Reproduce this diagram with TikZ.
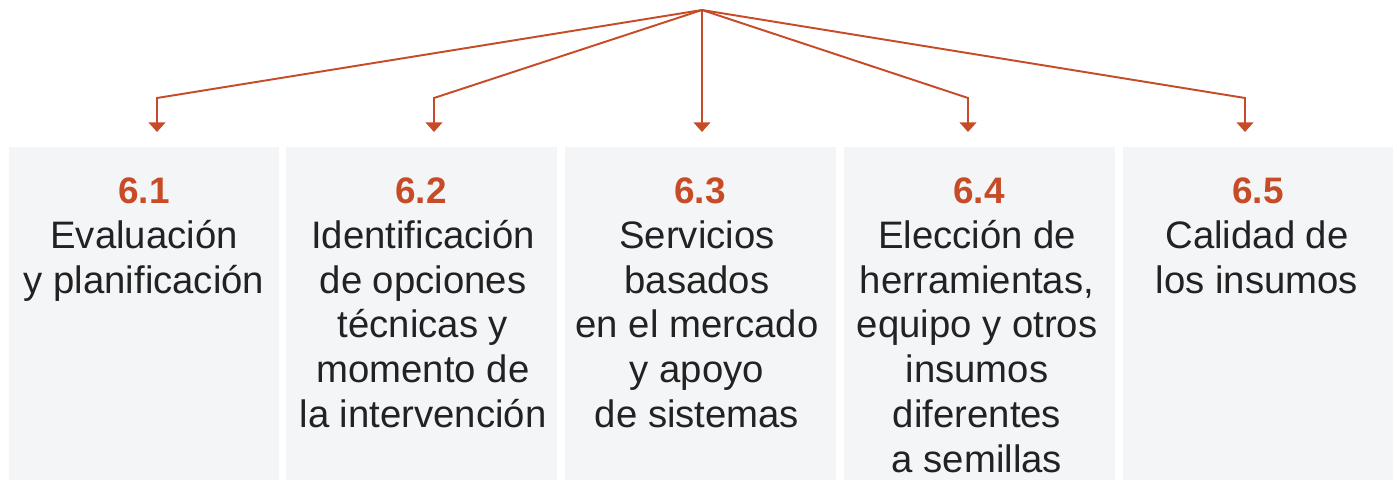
\documentclass[tikz,border=0pt]{standalone}
\usepackage{fontspec}
\setmainfont{Liberation Sans}
\usetikzlibrary{arrows.meta}
\definecolor{rust}{HTML}{C64B26}
\definecolor{panel}{HTML}{F4F5F7}
\definecolor{ink}{HTML}{222222}
\tikzset{
  panelbox/.style={fill=panel, draw=none},
  numlabel/.style={anchor=base, text=rust, font=\fontsize{21}{24}\selectfont\bfseries, inner sep=0},
  bodytext/.style={anchor=north, text=ink, align=center, inner sep=0,
    font=\fontsize{21.8}{25.5}\selectfont},
  link/.style={draw=rust, line width=1.1pt, -{Triangle[width=9.5pt,length=5.5pt]}},
}

\begin{document}
\begin{tikzpicture}[x=0.02cm, y=-0.02cm]
		%%%%% START %%%%%
		\useasboundingbox (0, 0) rectangle (1398, 480);
		
		% panels
		\path[panelbox] (9, 147) rectangle (279, 480);
		\path[panelbox] (286, 147) rectangle (557, 480);
		\path[panelbox] (565, 147) rectangle (836, 480);
		\path[panelbox] (844, 147) rectangle (1115, 480);
		\path[panelbox] (1123, 147) rectangle (1393, 480);
		
		% numbers
		\node[numlabel] (num1) at (144, 203) {6.1};
		\node[numlabel] (num2) at (421, 203) {6.2};
		\node[numlabel] (num3) at (700, 203) {6.3};
		\node[numlabel] (num4) at (979, 203) {6.4};
		\node[numlabel] (num5) at (1258, 203) {6.5};
		
		% texts (first baseline at 248)
		\node[bodytext] (txt1) at (144, 216.6) {\strut Evaluación\\y planificación};
		\node[bodytext] (txt2) at (423, 216.6) {\strut Identificación\\de opciones\\técnicas y\\momento de\\la intervención};
		\node[bodytext] (txt3) at (697, 216.6) {\strut Servicios\\basados\\en el mercado\\y apoyo\\de sistemas};
		\node[bodytext] (txt4) at (977, 216.6) {\strut Elección de\\herramientas,\\equipo y otros\\insumos\\diferentes\\a semillas};
		\node[bodytext] (txt5) at (1257, 216.6) {\strut Calidad de\\los insumos};
		
		% connectors
		\coordinate (top) at (702, 10);
		\coordinate (e1) at (157, 132);
		\coordinate (e2) at (434, 132);
		\coordinate (e3) at (702, 132);
		\coordinate (e4) at (968, 132);
		\coordinate (e5) at (1245, 132);
		\draw[link] (top) -- (e1 |- 0, 98) -- (e1);
		\draw[link] (top) -- (e2 |- 0, 98) -- (e2);
		\draw[link] (top) -- (e3);
		\draw[link] (top) -- (e4 |- 0, 98) -- (e4);
		\draw[link] (top) -- (e5 |- 0, 98) -- (e5);
		%%%%% END %%%%%
\end{tikzpicture}
\end{document}
